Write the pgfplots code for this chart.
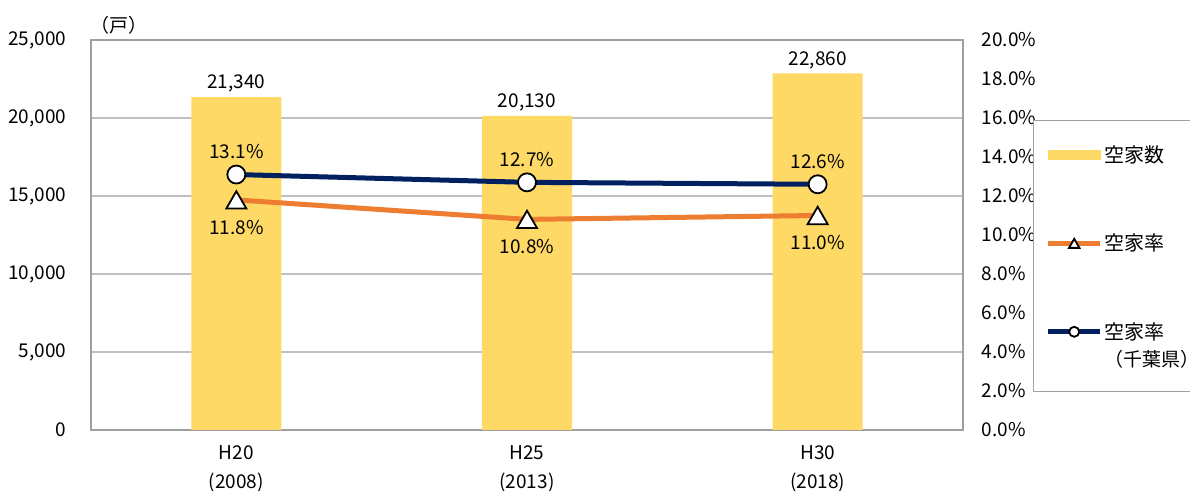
\documentclass[border=0pt]{standalone}
\usepackage{fontspec}
\setmainfont{Noto Sans CJK JP}
\usepackage{pgfplots}
\pgfplotsset{compat=1.18}
\pgfplotsset{/pgf/number format/assume math mode=true}

\definecolor{barfill}{HTML}{FFD966}
\definecolor{rateorange}{HTML}{ED7D31}
\definecolor{ratenavy}{HTML}{002060}
\definecolor{gridgray}{HTML}{C0C0C0}
\definecolor{framegray}{HTML}{A0A0A0}

% legend pictograms
\pgfplotsset{
  barlegend/.style={legend image code/.code={\fill[barfill] (0pt,1.55pt) rectangle (26pt,6.05pt);}},
  trilegend/.style={legend image code/.code={
    \draw[##1, mark=none] (0pt,3.8pt) -- (26pt,3.8pt);
    \draw[##1, mark size=3pt, mark options={fill=white, draw=black, line width=0.9pt, yshift=-0.75pt}] plot coordinates {(13pt,3.8pt)};
  }},
  % two-line entry: pictogram level with the first line
  circlegend/.style={legend image code/.code={
    \draw[##1, mark=none] (0pt,17.3pt) -- (26pt,17.3pt);
    \draw[##1, mark size=2.5pt] plot coordinates {(13pt,17.3pt)};
  }},
}

% 空家数（戸）
\pgfplotstableread{
x  houses
0  21340
1  20130
2  22860
}\housestable

\begin{document}
\fontsize{9.5}{11}\selectfont
\begin{tikzpicture}
\useasboundingbox (-45.5pt,-30.5pt) rectangle (549.5pt,215pt);

% 左軸：空家数（棒）
\begin{axis}[
  name=main,
  scale only axis, width=436pt, height=195pt,
  xmin=-0.5, xmax=2.5, ymin=0, ymax=25000,
  xtick={0,1,2},
  xticklabels={{H20\\(2008)},{H25\\(2013)},{H30\\(2018)}},
  xticklabel style={align=center, font=\fontsize{9.5}{14.5}\selectfont, yshift=-4.5pt},
  ytick={0,5000,10000,15000,20000,25000},
  scaled y ticks=false,
  yticklabel style={font=\fontsize{9.5}{11}\selectfont, xshift=-9pt},
  major tick length=0pt,
  ymajorgrids, grid style={gridgray, line width=0.7pt},
  axis line style={framegray, line width=0.8pt},
  ybar, bar width=45pt,
  nodes near coords,
  nodes near coords style={font=\fontsize{9.5}{11}\selectfont, text=black, yshift=-1pt},
]
\addplot[fill=barfill, draw=none] table[x=x, y=houses] {\housestable};
\end{axis}

% 右軸：空家率（折れ線）
\begin{axis}[
  scale only axis, width=436pt, height=195pt,
  xmin=-0.5, xmax=2.5, ymin=0, ymax=20,
  axis x line=none,
  axis y line*=right,
  ytick={0,2,...,20},
  yticklabel={\pgfmathprintnumber[fixed,fixed zerofill,precision=1]{\tick}\%},
  yticklabel style={font=\fontsize{9.5}{11}\selectfont, xshift=6pt},
  major tick length=0pt,
  axis line style={framegray, line width=0.8pt},
  legend style={
    at={(1.0803,0.7949)}, anchor=north west,
    draw=framegray, line width=0.7pt,
    inner xsep=6pt, inner ysep=10.5pt,
    row sep=30.4pt, column sep=-1pt,
    font=\fontsize{10}{13.5}\selectfont,
    cells={anchor=base west},
  },
]
\addlegendimage{barlegend}
\addlegendentry{空家数}

\addplot[rateorange, line width=2.5pt,
  mark=triangle*, mark size=5.8pt,
  mark options={fill=white, draw=black, line width=0.9pt, yshift=-1.45pt},
  nodes near coords={\pgfmathprintnumber[fixed,fixed zerofill,precision=1]{\pgfplotspointmeta}\%},
  nodes near coords style={font=\fontsize{9.5}{11}\selectfont, text=black, anchor=north, yshift=-5pt},
  trilegend,
] coordinates {(0,11.8) (1,10.8) (2,11.0)};
\addlegendentry{空家率}

\addplot[ratenavy, line width=2.5pt,
  mark=*, mark size=4.5pt,
  mark options={fill=white, draw=black, line width=0.9pt},
  nodes near coords={\pgfmathprintnumber[fixed,fixed zerofill,precision=1]{\pgfplotspointmeta}\%},
  nodes near coords style={font=\fontsize{9.5}{11}\selectfont, text=black, anchor=south, yshift=4.4pt},
  circlegend,
] coordinates {(0,13.1) (1,12.7) (2,12.6)};
\addlegendentry[align=left, text depth=-3pt]{空家率\\{\fontsize{9.5}{13.5}\selectfont（千葉県）}}
\end{axis}

\node[font=\fontsize{9.5}{11}\selectfont] at ([xshift=14pt,yshift=7.5pt]main.north west) {（戸）};
\end{tikzpicture}
\end{document}
